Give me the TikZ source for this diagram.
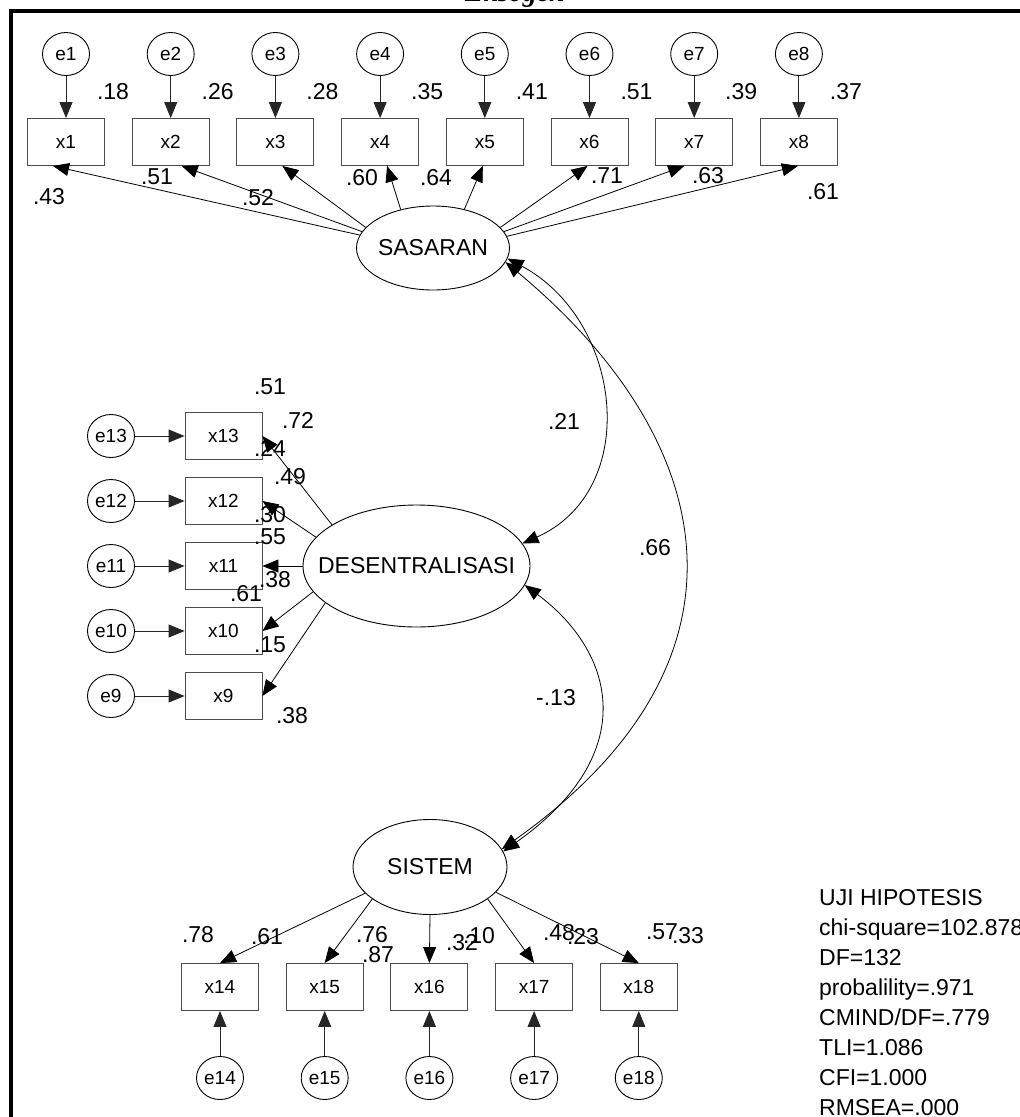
\documentclass[tikz,border=0pt]{standalone}
\usepackage{fontspec}
\setmainfont{Liberation Sans}
\newfontfamily\titlefont{Liberation Serif}
\usetikzlibrary{arrows.meta,shapes.geometric}
\tikzset{
  obs/.style={rectangle,draw=black!70,line width=0.9pt,minimum width=77,minimum height=47,inner sep=0pt,font=\fontsize{19}{22}\selectfont},
  err/.style={ellipse,draw=black,line width=0.9pt,minimum width=47,minimum height=43,inner sep=0pt,font=\fontsize{19}{22}\selectfont},
  lat/.style={ellipse,draw=black,line width=0.9pt,inner sep=0pt,font=\fontsize{23}{27}\selectfont},
  val/.style={inner sep=0pt,font=\fontsize{23}{27}\selectfont},
  arr/.style={-{Triangle[length=16pt,width=13pt]}},
  load/.style={draw=black,line width=0.8pt,arr},
  res/.style={draw=black!85,line width=0.9pt,arr},
  cov/.style={draw=black,line width=0.8pt,{Triangle[length=16pt,width=13pt]}-{Triangle[length=16pt,width=13pt]}},
}
\newcommand{\latname}[1]{\makebox[0pt]{#1}}

\begin{document}
\begin{tikzpicture}[x=1pt,y=-1pt]
\useasboundingbox (0,0) rectangle (1020,1117);
% frame and title
\draw[line width=3.8pt] (11,1160) -- (11,11) -- (1060,11);
\node[anchor=base,inner sep=0pt,font=\fontsize{28}{30}\titlefont\bfseries\itshape] (judul) at (515,1.5) {Eksogen};

% latent variables
\node[lat,minimum width=153,minimum height=84] (sas) at (433,248) {\latname{SASARAN}};
\node[lat,minimum width=227,minimum height=122] (des) at (416.5,566) {\latname{DESENTRALISASI}};
\node[lat,minimum width=154,minimum height=95] (sis) at (430,867) {\latname{SISTEM}};

% SASARAN indicators
\node[err] (e1) at (66,54) {e1};
\node[err] (e2) at (170.7,54) {e2};
\node[err] (e3) at (275.4,54) {e3};
\node[err] (e4) at (380.1,54) {e4};
\node[err] (e5) at (484.8,54) {e5};
\node[err] (e6) at (589.5,54) {e6};
\node[err] (e7) at (694.2,54) {e7};
\node[err] (e8) at (798.9,54) {e8};
\node[obs] (x1) at (66,142) {x1};
\node[obs] (x2) at (170.7,142) {x2};
\node[obs] (x3) at (275.4,142) {x3};
\node[obs] (x4) at (380.1,142) {x4};
\node[obs] (x5) at (484.8,142) {x5};
\node[obs] (x6) at (589.5,142) {x6};
\node[obs] (x7) at (694.2,142) {x7};
\node[obs] (x8) at (798.9,142) {x8};
\draw[res] (e1) -- (x1);
\draw[res] (e2) -- (x2);
\draw[res] (e3) -- (x3);
\draw[res] (e4) -- (x4);
\draw[res] (e5) -- (x5);
\draw[res] (e6) -- (x6);
\draw[res] (e7) -- (x7);
\draw[res] (e8) -- (x8);
\draw[load] (sas.170) -- ([xshift=-13pt]x1.south);
\draw[load] (sas.167) -- ([xshift=11pt]x2.south);
\draw[load] (sas.163) -- ([xshift=7pt]x3.south);
\draw[load] (sas.130) -- ([xshift=7pt]x4.south);
\draw[load] (sas.51) -- ([xshift=-2pt]x5.south);
\draw[load] (sas.17) -- ([xshift=-2pt]x6.south);
\draw[load] (sas.13) -- ([xshift=-10pt]x7.south);
\draw[load] (sas.9) -- ([xshift=-1pt]x8.south);
\node[val] (r1) at (113,92) {.18};
\node[val] (r2) at (217.7,92) {.26};
\node[val] (r3) at (322.4,92) {.28};
\node[val] (r4) at (427.1,92) {.35};
\node[val] (r5) at (531.8,92) {.41};
\node[val] (r6) at (636.5,92) {.51};
\node[val] (r7) at (741.2,92) {.39};
\node[val] (r8) at (845.9,92) {.37};
\node[val] (l1) at (49,197) {.43};
\node[val] (l2) at (157,177) {.51};
\node[val] (l3) at (258,198) {.52};
\node[val] (l4) at (362,178) {.60};
\node[val] (l5) at (436,178) {.64};
\node[val] (l6) at (607,176) {.71};
\node[val] (l7) at (708,176) {.63};
\node[val] (l8) at (823,192) {.61};

% DESENTRALISASI indicators
\node[err] (e13) at (111,436) {e13};
\node[err] (e12) at (111,501) {e12};
\node[err] (e11) at (111,566) {e11};
\node[err] (e10) at (111,631) {e10};
\node[err] (e9) at (111,696) {e9};
\node[obs] (x13) at (223.5,436) {x13};
\node[obs] (x12) at (223.5,501) {x12};
\node[obs] (x11) at (223.5,566) {x11};
\node[obs] (x10) at (223.5,631) {x10};
\node[obs] (x9) at (223.5,696) {x9};
\draw[res] (e13) -- (x13);
\draw[res] (e12) -- (x12);
\draw[res] (e11) -- (x11);
\draw[res] (e10) -- (x10);
\draw[res] (e9) -- (x9);
\draw[load] (des.154) -- (x13.east);
\draw[load] (des.164.5) -- (x12.east);
\draw[load] (des.180) -- (x11.east);
\draw[load] (des.194.6) -- (x10.east);
\draw[load] (des.202.7) -- (x9.east);
\node[val] (r9) at (270,387) {.51};
\node[val] (l9) at (298,420) {.72};
\node[val] (r13) at (270,448) {.24};
\node[val] (l13) at (290,477) {.49};
\node[val] (r12) at (270,515) {.30};
\node[val] (l12) at (270,537) {.55};
\node[val] (r11) at (275,580) {.38};
\node[val] (l11) at (246,594) {.61};
\node[val] (r10) at (270,645) {.15};
\node[val] (l10) at (292,716) {.38};

% SISTEM indicators
\node[obs] (x14) at (220,987) {x14};
\node[obs] (x15) at (324.7,987) {x15};
\node[obs] (x16) at (429.4,987) {x16};
\node[obs] (x17) at (534.1,987) {x17};
\node[obs] (x18) at (638.8,987) {x18};
\node[err] (e14) at (220,1078) {e14};
\node[err] (e15) at (324.7,1078) {e15};
\node[err] (e16) at (429.4,1078) {e16};
\node[err] (e17) at (534.1,1078) {e17};
\node[err] (e18) at (638.8,1078) {e18};
\draw[res] (e14) -- (x14);
\draw[res] (e15) -- (x15);
\draw[res] (e16) -- (x16);
\draw[res] (e17) -- (x17);
\draw[res] (e18) -- (x18);
\draw[load] (sis.202) -- (x14.north);
\draw[load] (sis.209) -- (x15.north);
\draw[load] (sis.270) -- (x16.north);
\draw[load] (sis.331) -- (x17.north);
\draw[load] (sis.339) -- (x18.north);
\node[val] (r14) at (198,935) {.78};
\node[val] (l14) at (267,937) {.61};
\node[val] (r15) at (372,935) {.76};
\node[val] (l15) at (378,955) {.87};
\node[val] (l16) at (462,943) {.32};
\node[val] (r16) at (479,936) {.10};
\node[val] (l17) at (559,933) {.48};
\node[val] (r17) at (583,937) {.23};
\node[val] (l18) at (662,932) {.57};
\node[val] (r18) at (688,936) {.33};

% correlations
\draw[cov] (sas.-8) .. controls +(116,62) and +(119,-53) .. (des.12);
\draw[cov] (sas.-11) .. controls +(216,180) and +(264,-187) .. (sis.14);
\draw[cov] (des.-10) .. controls +(89,66) and +(140,-99) .. (sis.12);
\node[val] (c1) at (564,421) {.21};
\node[val] (c2) at (655,548) {.66};
\node[val] (c3) at (556,698) {-.13};

% fit
\node[val,anchor=north west,align=left,font=\fontsize{23}{29.9}\selectfont] (uji) at (819,889.5)
  {UJI HIPOTESIS\\chi-square=102.878\\DF=132\\probalility=.971\\CMIND/DF=.779\\TLI=1.086\\CFI=1.000\\RMSEA=.000};
\end{tikzpicture}
\end{document}
